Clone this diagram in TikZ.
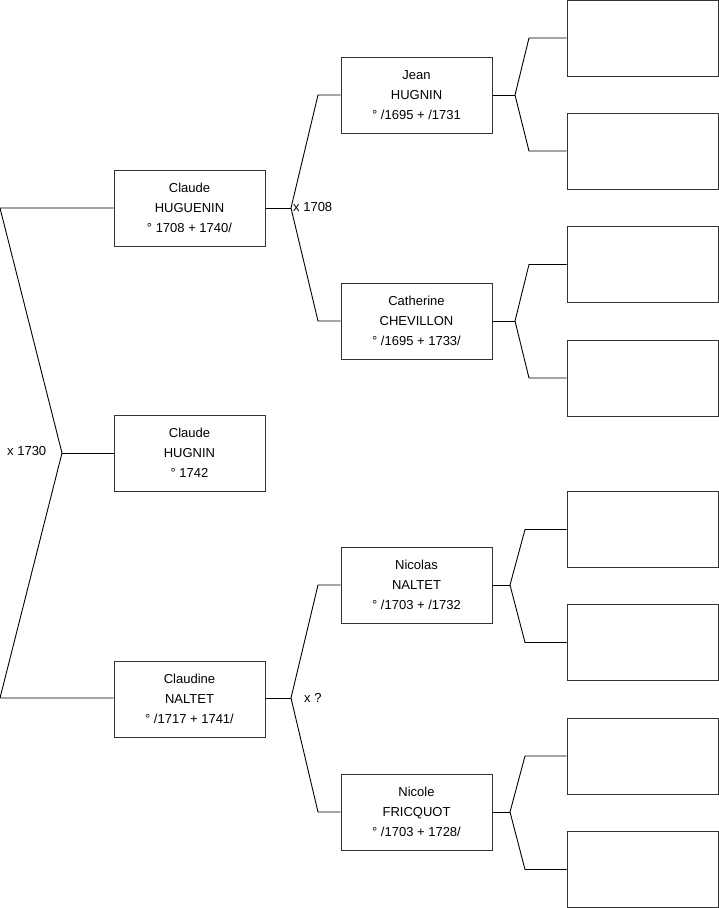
\documentclass[tikz,border=0pt]{standalone}
\usepackage{fontspec}
\setmainfont{Liberation Sans}
\begin{document}
\begin{tikzpicture}[x=1pt,y=-1pt,
  pbox/.style={draw=black!80, line width=1pt, minimum width=151pt, minimum height=76pt,
    inner sep=0pt, align=center, font=\fontsize{13}{20}\selectfont},
  link/.style={draw=black, line width=0.9pt},
  lbl/.style={anchor=west, inner sep=0pt, font=\fontsize{13}{15}\selectfont}]
\useasboundingbox (0,0) rectangle (719,908);
% generation 1
\node[pbox] (a1) at (189.5,208) {Claude\\HUGUENIN\\° 1708 + 1740/};
\node[pbox] (a2) at (189.5,453) {Claude\\HUGNIN\\° 1742};
\node[pbox] (a3) at (189.5,699) {Claudine\\NALTET\\° /1717 + 1741/};
% generation 2
\node[pbox] (b1) at (416.5,95) {Jean\\HUGNIN\\° /1695 + /1731};
\node[pbox] (b2) at (416.5,321) {Catherine\\CHEVILLON\\° /1695 + 1733/};
\node[pbox] (b3) at (416.5,585) {Nicolas\\NALTET\\° /1703 + /1732};
\node[pbox] (b4) at (416.5,812) {Nicole\\FRICQUOT\\° /1703 + 1728/};
% generation 3
\node[pbox] (c1) at (642.5,38) {};
\node[pbox] (c2) at (642.5,151) {};
\node[pbox] (c3) at (642.5,264.5) {};
\node[pbox] (c4) at (642.5,378) {};
\node[pbox] (c5) at (642.5,529.5) {};
\node[pbox] (c6) at (642.5,642.5) {};
\node[pbox] (c7) at (642.5,756) {};
\node[pbox] (c8) at (642.5,869.5) {};
% root connector
\coordinate (r) at (62,453);
\coordinate (rt) at (0,208);
\coordinate (rb) at (0,698);
\draw[link] (a1.west |- rt) -- (rt) -- (r) -- (rb) -- (a3.west |- rb);
\draw[link] (r) -- (a2.west);
\node[lbl] (l0) at (7,451) {x 1730};
% Claude HUGUENIN parents
\coordinate (v1) at (291,208);
\coordinate (v1t) at (318,95);
\coordinate (v1b) at (318,321);
\draw[link] (a1.east) -- (v1);
\draw[link] (b1.west) -- (v1t) -- (v1) -- (v1b) -- (b2.west);
\node[lbl] (l1) at (293,207) {x 1708};
% Claudine NALTET parents
\coordinate (v2) at (291,698);
\coordinate (v2t) at (318,585);
\coordinate (v2b) at (318,812);
\draw[link] (a3.east |- v2) -- (v2);
\draw[link] (b3.west) -- (v2t) -- (v2) -- (v2b) -- (b4.west);
\node[lbl] (l2) at (304,698) {x ?};
% generation 2 -> 3
\coordinate (w1) at (515,95);
\coordinate (w1t) at (529,38);
\coordinate (w1b) at (529,151);
\draw[link] (b1.east) -- (w1);
\draw[link] (c1.west) -- (w1t) -- (w1) -- (w1b) -- (c2.west);
\coordinate (w2) at (515,321);
\coordinate (w2t) at (529,264.5);
\coordinate (w2b) at (529,378);
\draw[link] (b2.east) -- (w2);
\draw[link] (c3.west) -- (w2t) -- (w2) -- (w2b) -- (c4.west);
\coordinate (w3) at (510,585);
\coordinate (w3t) at (525,529.5);
\coordinate (w3b) at (525,642.5);
\draw[link] (b3.east) -- (w3);
\draw[link] (c5.west) -- (w3t) -- (w3) -- (w3b) -- (c6.west);
\coordinate (w4) at (510,812);
\coordinate (w4t) at (525,756);
\coordinate (w4b) at (525,869.5);
\draw[link] (b4.east) -- (w4);
\draw[link] (c7.west) -- (w4t) -- (w4) -- (w4b) -- (c8.west);
\end{tikzpicture}
\end{document}
